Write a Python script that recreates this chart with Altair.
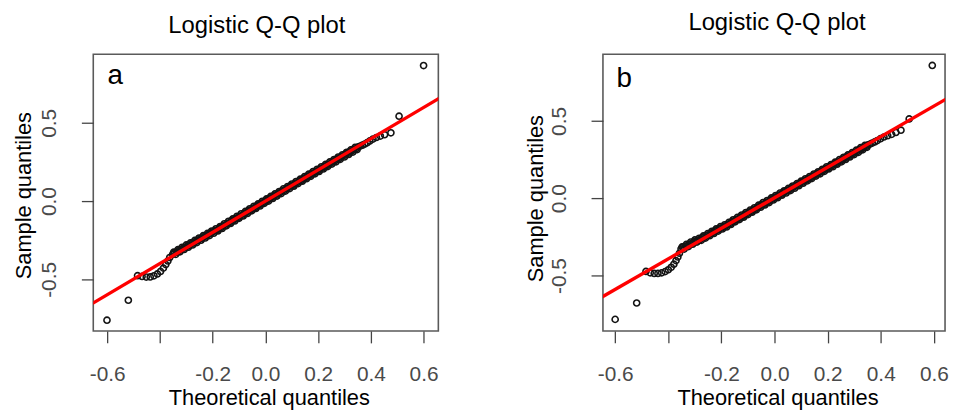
import altair as alt
import pandas as pd

FONT = "Liberation Sans"

# ---------------- panel a ----------------
a_theo = [
    -0.601, -0.520, -0.485, -0.468, -0.452, -0.437, -0.423, -0.410, -0.398, -0.387,
    -0.378, -0.370, -0.363,
    -0.352, -0.344, -0.336, -0.328, -0.320, -0.312, -0.304, -0.296, -0.288, -0.280,
    -0.272, -0.264, -0.256, -0.248, -0.240, -0.232, -0.224, -0.216, -0.208, -0.200,
    -0.192, -0.184, -0.176, -0.168, -0.160, -0.152, -0.144, -0.136, -0.128, -0.120,
    -0.112, -0.104, -0.096, -0.088, -0.080, -0.072, -0.064, -0.056, -0.048, -0.040,
    -0.032, -0.024, -0.016, -0.008, 0.000, 0.008, 0.016, 0.024, 0.032, 0.040,
    0.048, 0.056, 0.064, 0.072, 0.080, 0.088, 0.096, 0.104, 0.112, 0.120,
    0.128, 0.136, 0.144, 0.152, 0.160, 0.168, 0.176, 0.184, 0.192, 0.200,
    0.208, 0.216, 0.224, 0.232, 0.240, 0.248, 0.256, 0.264, 0.272, 0.280,
    0.288, 0.296, 0.304, 0.312, 0.320, 0.328, 0.336, 0.344, 0.352,
    0.360, 0.368, 0.377, 0.386, 0.396, 0.408, 0.421, 0.436, 0.452, 0.476,
    0.507, 0.600,
]
a_samp = [
    -0.760, -0.633, -0.476, -0.481, -0.485, -0.484, -0.477, -0.465, -0.449, -0.428,
    -0.405, -0.382, -0.360,
    -0.340, -0.330, -0.326, -0.316, -0.311, -0.301, -0.296, -0.286, -0.282, -0.271,
    -0.267, -0.256, -0.252, -0.241, -0.237, -0.226, -0.222, -0.211, -0.207, -0.196,
    -0.190, -0.186, -0.173, -0.169, -0.158, -0.155, -0.143, -0.138, -0.125, -0.121,
    -0.110, -0.106, -0.095, -0.091, -0.078, -0.073, -0.061, -0.058, -0.047, -0.042,
    -0.030, -0.025, -0.014, -0.010, 0.001, 0.006, 0.019, 0.023, 0.034, 0.037,
    0.049, 0.054, 0.066, 0.069, 0.081, 0.086, 0.098, 0.100, 0.112, 0.117,
    0.129, 0.132, 0.143, 0.149, 0.160, 0.164, 0.175, 0.179, 0.190, 0.194,
    0.206, 0.211, 0.223, 0.226, 0.237, 0.241, 0.254, 0.258, 0.269, 0.272,
    0.284, 0.289, 0.301, 0.303, 0.315, 0.320, 0.332, 0.334, 0.346,
    0.351, 0.357, 0.364, 0.373, 0.384, 0.396, 0.406, 0.415, 0.424, 0.436,
    0.542, 0.865,
]
# further points of the dense central band of panel a
a_theo_band = [
    -0.348, -0.340, -0.332, -0.324, -0.316, -0.308, -0.300, -0.292, -0.284, -0.276,
    -0.268, -0.260, -0.252, -0.244, -0.236, -0.228, -0.220, -0.212, -0.204, -0.196,
    -0.188, -0.180, -0.172, -0.164, -0.156, -0.148, -0.140, -0.132, -0.124, -0.116,
    -0.108, -0.100, -0.092, -0.084, -0.076, -0.068, -0.060, -0.052, -0.044, -0.036,
    -0.028, -0.020, -0.012, -0.004, 0.004, 0.012, 0.020, 0.028, 0.036, 0.044,
    0.052, 0.060, 0.068, 0.076, 0.084, 0.092, 0.100, 0.108, 0.116, 0.124,
    0.132, 0.140, 0.148, 0.156, 0.164, 0.172, 0.180, 0.188, 0.196, 0.204,
    0.212, 0.220, 0.228, 0.236, 0.244, 0.252, 0.260, 0.268, 0.276, 0.284,
    0.292, 0.300, 0.308, 0.316, 0.324, 0.332, 0.340, 0.348,
]
a_samp_band = [
    -0.326, -0.340, -0.310, -0.324, -0.295, -0.309, -0.280, -0.294, -0.266, -0.280,
    -0.251, -0.265, -0.236, -0.250, -0.221, -0.235, -0.206, -0.220, -0.191, -0.205,
    -0.177, -0.191, -0.162, -0.175, -0.145, -0.158, -0.129, -0.143, -0.114, -0.127,
    -0.097, -0.110, -0.081, -0.095, -0.066, -0.079, -0.049, -0.062, -0.033, -0.047,
    -0.018, -0.031, -0.001, -0.014, 0.014, 0.000, 0.030, 0.017, 0.046, 0.032,
    0.061, 0.048, 0.078, 0.064, 0.093, 0.080, 0.109, 0.095, 0.125, 0.112,
    0.140, 0.127, 0.156, 0.143, 0.172, 0.158, 0.188, 0.174, 0.203, 0.189,
    0.219, 0.205, 0.234, 0.220, 0.250, 0.236, 0.265, 0.251, 0.281, 0.267,
    0.296, 0.282, 0.312, 0.298, 0.327, 0.313, 0.343, 0.329,
]
a_line_x = [-0.70, 0.70]
a_line_y = [-0.697, 0.697]
a_label = ["a"]
a_label_x = [-0.570]
a_label_y = [0.797]

# ---------------- panel b ----------------
b_theo = [
    -0.600, -0.519, -0.484, -0.468, -0.453, -0.439, -0.425, -0.412, -0.400, -0.389,
    -0.379, -0.371, -0.364, -0.358,
    -0.352, -0.344, -0.336, -0.328, -0.320, -0.312, -0.304, -0.296, -0.288, -0.280,
    -0.272, -0.264, -0.256, -0.248, -0.240, -0.232, -0.224, -0.216, -0.208, -0.200,
    -0.192, -0.184, -0.176, -0.168, -0.160, -0.152, -0.144, -0.136, -0.128, -0.120,
    -0.112, -0.104, -0.096, -0.088, -0.080, -0.072, -0.064, -0.056, -0.048, -0.040,
    -0.032, -0.024, -0.016, -0.008, 0.000, 0.008, 0.016, 0.024, 0.032, 0.040,
    0.048, 0.056, 0.064, 0.072, 0.080, 0.088, 0.096, 0.104, 0.112, 0.120,
    0.128, 0.136, 0.144, 0.152, 0.160, 0.168, 0.176, 0.184, 0.192, 0.200,
    0.208, 0.216, 0.224, 0.232, 0.240, 0.248, 0.256, 0.264, 0.272, 0.280,
    0.288, 0.296, 0.304, 0.312, 0.320, 0.328, 0.336, 0.344, 0.352,
    0.360, 0.368, 0.377, 0.387, 0.399, 0.412, 0.426, 0.441, 0.457, 0.476,
    0.507, 0.594,
]
b_samp = [
    -0.784, -0.678, -0.474, -0.483, -0.487, -0.487, -0.483, -0.475, -0.463, -0.447,
    -0.427, -0.404, -0.380, -0.356,
    -0.329, -0.317, -0.311, -0.307, -0.297, -0.293, -0.283, -0.279, -0.272, -0.267,
    -0.255, -0.252, -0.241, -0.237, -0.226, -0.222, -0.211, -0.207, -0.197, -0.193,
    -0.184, -0.180, -0.169, -0.165, -0.152, -0.148, -0.137, -0.133, -0.122, -0.118,
    -0.106, -0.101, -0.089, -0.086, -0.075, -0.070, -0.058, -0.053, -0.042, -0.040,
    -0.028, -0.023, -0.011, -0.006, 0.005, 0.009, 0.020, 0.024, 0.037, 0.042,
    0.051, 0.055, 0.067, 0.072, 0.082, 0.086, 0.099, 0.103, 0.113, 0.118,
    0.129, 0.132, 0.143, 0.149, 0.160, 0.164, 0.175, 0.179, 0.190, 0.194,
    0.206, 0.210, 0.222, 0.225, 0.236, 0.240, 0.253, 0.257, 0.268, 0.271,
    0.283, 0.287, 0.299, 0.302, 0.314, 0.319, 0.331, 0.334, 0.345,
    0.350, 0.357, 0.364, 0.373, 0.385, 0.396, 0.404, 0.413, 0.425, 0.440,
    0.513, 0.859,
]
# further points of the dense central band of panel b
b_theo_band = [
    -0.348, -0.340, -0.332, -0.324, -0.316, -0.308, -0.300, -0.292, -0.284, -0.276,
    -0.268, -0.260, -0.252, -0.244, -0.236, -0.228, -0.220, -0.212, -0.204, -0.196,
    -0.188, -0.180, -0.172, -0.164, -0.156, -0.148, -0.140, -0.132, -0.124, -0.116,
    -0.108, -0.100, -0.092, -0.084, -0.076, -0.068, -0.060, -0.052, -0.044, -0.036,
    -0.028, -0.020, -0.012, -0.004, 0.004, 0.012, 0.020, 0.028, 0.036, 0.044,
    0.052, 0.060, 0.068, 0.076, 0.084, 0.092, 0.100, 0.108, 0.116, 0.124,
    0.132, 0.140, 0.148, 0.156, 0.164, 0.172, 0.180, 0.188, 0.196, 0.204,
    0.212, 0.220, 0.228, 0.236, 0.244, 0.252, 0.260, 0.268, 0.276, 0.284,
    0.292, 0.300, 0.308, 0.316, 0.324, 0.332, 0.340, 0.348,
]
b_samp_band = [
    -0.315, -0.329, -0.299, -0.313, -0.284, -0.298, -0.270, -0.284, -0.259, -0.273,
    -0.244, -0.258, -0.229, -0.243, -0.214, -0.228, -0.199, -0.213, -0.184, -0.199,
    -0.172, -0.186, -0.157, -0.170, -0.140, -0.153, -0.124, -0.138, -0.109, -0.123,
    -0.093, -0.106, -0.077, -0.091, -0.062, -0.075, -0.045, -0.058, -0.029, -0.044,
    -0.015, -0.028, 0.002, -0.011, 0.017, 0.003, 0.033, 0.019, 0.048, 0.034,
    0.063, 0.049, 0.079, 0.065, 0.094, 0.081, 0.110, 0.097, 0.126, 0.112,
    0.140, 0.127, 0.156, 0.143, 0.171, 0.158, 0.187, 0.174, 0.203, 0.189,
    0.217, 0.204, 0.233, 0.220, 0.249, 0.235, 0.265, 0.251, 0.280, 0.267,
    0.295, 0.282, 0.311, 0.297, 0.327, 0.313, 0.342, 0.329,
]
b_line_x = [-0.70, 0.70]
b_line_y = [-0.689, 0.695]
b_label = ["b"]
b_label_x = [-0.566]
b_label_y = [0.774]

x_ticks = [-0.6, -0.4, -0.2, 0.0, 0.2, 0.4, 0.6]
y_ticks = [-0.5, 0.0, 0.5]
title_text = "Logistic Q-Q plot"
x_title = "Theoretical quantiles"
y_title = "Sample quantiles"

XEXPR = ("abs(datum.value + 0.4) < 0.01 ? '' : "
         "(datum.value < -0.001 ? '-' : '') + format(abs(datum.value), '.1f')")
YEXPR = "(datum.value < -0.001 ? '-' : '') + format(abs(datum.value), '.1f')"


def panel(theo, samp, lx, ly, lab, labx, laby, xdom, ydom, w, h,
          ytitle_x, ytitle_y, xtitle_x, title_dx, title_off):
    pts = pd.DataFrame({"theo": theo, "samp": samp}).sort_values("theo")
    ln = pd.DataFrame({"theo": lx, "samp": ly})
    lb = pd.DataFrame({"theo": labx, "samp": laby, "t": lab})
    xs = alt.Scale(domain=xdom, nice=False, zero=False)
    ys = alt.Scale(domain=ydom, nice=False, zero=False)
    xax = alt.Axis(values=x_ticks, labelExpr=XEXPR, title=x_title, grid=False,
                   domain=False, tickSize=12, tickColor="#444444", tickWidth=1.3,
                   labelFont=FONT, labelFontSize=21, labelColor="#4a4a4a",
                   labelPadding=21, labelOverlap=False, labelFlush=False,
                   titleFont=FONT, titleFontSize=22, titleFontWeight="normal",
                   titleColor="black", titleX=xtitle_x, titleY=67,
                   titleBaseline="middle", titleAlign="center")
    yax = alt.Axis(values=y_ticks, labelExpr=YEXPR, title=y_title, grid=False,
                   domain=False, tickSize=12, tickColor="#444444", tickWidth=1.3,
                   labelFont=FONT, labelFontSize=21, labelColor="#4a4a4a",
                   labelPadding=22, labelAngle=270, labelAlign="center",
                   labelBaseline="bottom", labelOverlap=False, labelFlush=False,
                   titleFont=FONT, titleFontSize=22, titleFontWeight="normal",
                   titleColor="black", titleAngle=270, titleX=ytitle_x,
                   titleY=ytitle_y, titleBaseline="middle", titleAlign="center")
    p = alt.Chart(pts).mark_point(shape="circle", filled=False, size=38,
                                  strokeWidth=1.6, color="#141414", opacity=1,
                                  clip=True).encode(
        x=alt.X("theo:Q", scale=xs, axis=xax),
        y=alt.Y("samp:Q", scale=ys, axis=yax))
    l = alt.Chart(ln).mark_line(color="#ff0000", strokeWidth=3.4, clip=True).encode(
        x=alt.X("theo:Q", scale=xs), y=alt.Y("samp:Q", scale=ys))
    t = alt.Chart(lb).mark_text(font=FONT, fontSize=28, color="black",
                                align="center", baseline="middle").encode(
        x=alt.X("theo:Q", scale=xs), y=alt.Y("samp:Q", scale=ys), text="t:N")
    return alt.layer(p, l, t).properties(
        width=w, height=h,
        title=alt.TitleParams(text=title_text, font=FONT, fontSize=24,
                              fontWeight="normal", color="black", anchor="middle",
                              dx=title_dx, offset=title_off))


pa = panel(a_theo + a_theo_band, a_samp + a_samp_band, a_line_x, a_line_y,
           a_label, a_label_x, a_label_y,
           [-0.653, 0.656], [-0.829, 0.937], 348, 279, -70, 142, 177, -9, 16)
pb = panel(b_theo + b_theo_band, b_samp + b_samp_band, b_line_x, b_line_y,
           b_label, b_label_x, b_label_y,
           [-0.646, 0.642], [-0.859, 0.931], 345, 279, -68, 145, 176, 3, 20)

chart = alt.hconcat(pa, pb, spacing=166, bounds="flush").configure_view(
    stroke="#5a5a5a", strokeWidth=1.6).properties(
    padding={"left": 4, "top": 0, "right": 0, "bottom": 0})

chart.save("out.html", embed_options={"renderer": "svg", "actions": False})
